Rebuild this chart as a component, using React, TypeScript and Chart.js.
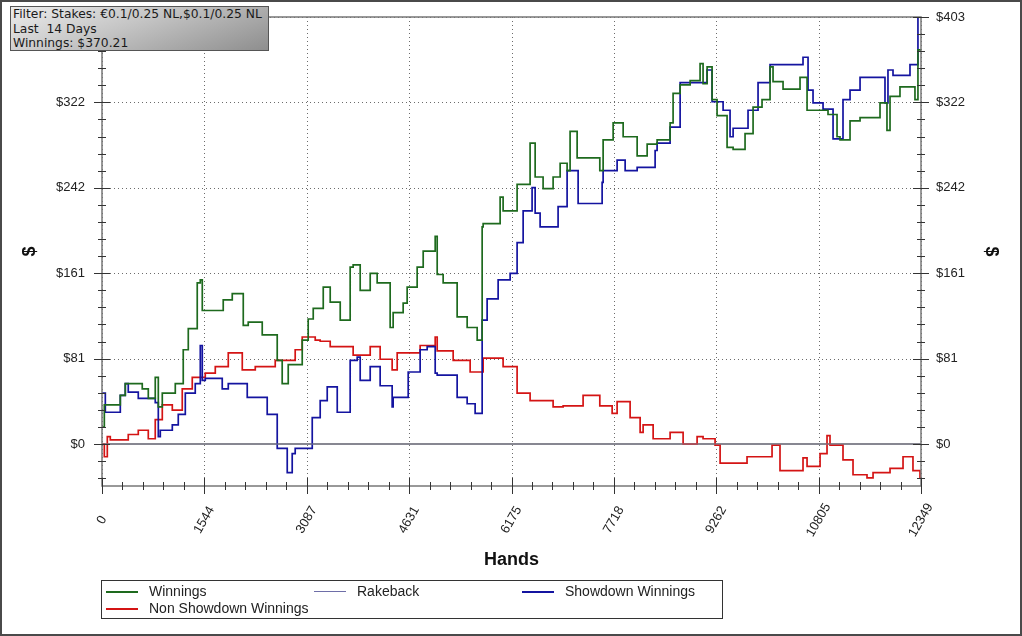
import { useEffect, useRef } from "react"
import Chart from "chart.js/auto"

// hands / cumulative $ for each series
const winningsHands = [0, 35, 276, 351, 607, 698, 803, 849, 909, 1105, 1225, 1301, 1436, 1482, 1512, 1828, 1964, 2130, 2205, 2416, 2642, 2717, 2808, 3019, 3109, 3185, 3336, 3441, 3592, 3742, 3787, 3893, 4044, 4149, 4345, 4390, 4541, 4601, 4752, 4843, 5024, 5054, 5144, 5355, 5506, 5657, 5732, 5747, 6003, 6048, 6259, 6455, 6531, 6651, 6802, 6908, 7013, 7058, 7164, 7506, 7556, 7707, 7858, 8069, 8220, 8370, 8566, 8611, 8717, 8868, 9018, 9063, 9124, 9199, 9274, 9425, 9516, 9696, 9817, 9952, 10073, 10118, 10269, 10525, 10631, 10947, 11083, 11128, 11279, 11430, 11731, 11836, 11882, 12032, 12258, 12303, 12349]
const winningsValues = [16, 37, 46, 57, 52, 43, 63, 35, 48, 57, 89, 109, 152, 155, 126, 136, 142, 112, 115, 103, 79, 57, 75, 98, 118, 128, 148, 134, 117, 167, 169, 145, 161, 152, 110, 124, 133, 148, 167, 182, 196, 160, 152, 120, 110, 98, 205, 208, 233, 220, 245, 284, 252, 241, 252, 265, 258, 295, 270, 258, 287, 303, 290, 272, 283, 287, 303, 331, 339, 343, 359, 340, 356, 325, 310, 280, 278, 293, 318, 325, 356, 342, 335, 346, 315, 311, 290, 287, 305, 308, 322, 296, 328, 337, 325, 372, 370]

const rakebackHands = [0, 12349]
const rakebackValues = [0, 0]

const showdownHands = [0, 50, 276, 351, 396, 547, 803, 849, 879, 1060, 1150, 1256, 1406, 1482, 1512, 1557, 1813, 1904, 2190, 2491, 2642, 2793, 2868, 2913, 3170, 3290, 3396, 3547, 3742, 3848, 3893, 4044, 4194, 4375, 4390, 4617, 4797, 4903, 5024, 5054, 5355, 5506, 5626, 5732, 5807, 5973, 6154, 6259, 6350, 6485, 6531, 6606, 6877, 7013, 7179, 7541, 7556, 7767, 7888, 8069, 8340, 8370, 8566, 8717, 9124, 9199, 9365, 9470, 9516, 9741, 9892, 10073, 10570, 10646, 10721, 10872, 11023, 11173, 11279, 11430, 11806, 11851, 11927, 12183, 12303, 12349]
const showdownValues = [48, 30, 46, 57, 49, 43, 39, 7, 13, 18, 28, 48, 57, 93, 60, 62, 52, 57, 44, 28, -4, -27, -9, -4, 25, 41, 54, 30, 79, 82, 60, 73, 55, 35, 44, 68, 89, 92, 67, 65, 44, 38, 29, 117, 137, 155, 161, 190, 220, 242, 218, 205, 224, 258, 227, 247, 258, 268, 258, 261, 277, 284, 299, 341, 353, 323, 315, 290, 298, 315, 341, 358, 365, 334, 322, 316, 288, 325, 334, 346, 322, 353, 348, 358, 403, 403]

const nonShowdownHands = [0, 35, 80, 125, 396, 547, 698, 803, 909, 1060, 1210, 1361, 1557, 1708, 1904, 2115, 2311, 2612, 2913, 3019, 3215, 3290, 3441, 3787, 4044, 4194, 4375, 4451, 4797, 5024, 5054, 5295, 5551, 5747, 6048, 6259, 6455, 6802, 6953, 7254, 7506, 7692, 7767, 7963, 8114, 8159, 8310, 8566, 8762, 8973, 9063, 9244, 9320, 9726, 10103, 10223, 10570, 10631, 10827, 10932, 10977, 11173, 11324, 11535, 11626, 11882, 12078, 12228, 12334, 12349]
const nonShowdownValues = [0, -12, 7, 4, 9, 13, 5, 23, 37, 32, 52, 63, 67, 73, 86, 70, 73, 79, 89, 101, 98, 97, 92, 84, 92, 80, 70, 86, 93, 101, 88, 79, 68, 81, 73, 48, 41, 35, 36, 46, 36, 29, 40, 25, 11, 18, 5, 11, 0, 7, 5, -1, -18, -12, -1, -25, -13, -21, -9, 8, -1, -15, -29, -32, -27, -23, -12, -25, -32, -32]

const seriesLabels = ["Winnings", "Rakeback", "Showdown Winnings", "Non Showdown Winnings"]
const seriesColors = ["#1e6a1e", "#6e6ea8", "#1414a0", "#d41414"]

const xTicks = [0, 1543.6, 3087.3, 4630.9, 6174.5, 7718.1, 9261.8, 10805.4, 12349]
const xTickLabels = ["0", "1544", "3087", "4631", "6175", "7718", "9262", "10805", "12349"]
const yTicks = [0, 80.6, 161.2, 241.8, 322.4, 403]
const yTickLabels = ["$0", "$81", "$161", "$242", "$322", "$403"]
const yMin = -39.6
const yMax = 403

const filterLines = ["Filter: Stakes: €0.1/0.25 NL,$0.1/0.25 NL", "Last  14 Days", "Winnings: $370.21"]

const FONT = "'Liberation Sans', Arial, sans-serif"

const pairs = (hands: number[], values: number[]) => hands.map((h, i) => ({ x: h, y: values[i] }))

const minorsBetween = (ticks: number[]) => {
  const out: number[] = []
  for (let i = 0; i < ticks.length - 1; i++) {
    const step = (ticks[i + 1] - ticks[i]) / 5
    for (let k = 1; k < 5; k++) out.push(ticks[i] + step * k)
  }
  return out
}

// dotted grid, zero line, frame, crossing tick marks and the slanted hand labels
const axisDecor = {
  id: "axisDecor",
  beforeDatasetsDraw(chart: any) {
    const { ctx, chartArea: a, scales } = chart
    ctx.save()
    ctx.strokeStyle = "#6c6c6c"
    ctx.lineWidth = 1
    ctx.setLineDash([1, 3])
    ctx.beginPath()
    xTicks.forEach((v) => {
      const px = Math.round(scales.x.getPixelForValue(v)) + 0.5
      ctx.moveTo(px, a.top)
      ctx.lineTo(px, a.bottom)
    })
    yTicks.forEach((v) => {
      if (v === 0) return
      const py = Math.round(scales.y.getPixelForValue(v)) + 0.5
      ctx.moveTo(a.left, py)
      ctx.lineTo(a.right, py)
    })
    ctx.stroke()
    ctx.setLineDash([])
    ctx.strokeStyle = "#8a8a8a"
    ctx.lineWidth = 2
    const z = Math.round(scales.y.getPixelForValue(0))
    ctx.beginPath()
    ctx.moveTo(a.left, z)
    ctx.lineTo(a.right, z)
    ctx.stroke()
    ctx.restore()
  },
  afterDatasetsDraw(chart: any) {
    const { ctx, chartArea: a, scales } = chart
    ctx.save()
    ctx.strokeStyle = "#777777"
    ctx.lineWidth = 1.5
    ctx.strokeRect(a.left, a.top, a.right - a.left, a.bottom - a.top)

    const yMinor = minorsBetween(yTicks)
    for (let v = -yTicks[1] / 5; v >= yMin; v -= yTicks[1] / 5) yMinor.push(v)
    const xMinor = minorsBetween(xTicks)

    ctx.strokeStyle = "#333333"
    ctx.lineWidth = 1
    ctx.beginPath()
    const yMark = (v: number, half: number) => {
      const py = Math.round(scales.y.getPixelForValue(v)) + 0.5
      ;[a.left, a.right].forEach((ax) => {
        ctx.moveTo(ax - half, py)
        ctx.lineTo(ax + half, py)
      })
    }
    const xMark = (v: number, half: number) => {
      const px = Math.round(scales.x.getPixelForValue(v)) + 0.5
      ctx.moveTo(px, a.bottom - half)
      ctx.lineTo(px, a.bottom + half)
    }
    yTicks.forEach((v) => yMark(v, 8))
    yMinor.forEach((v) => yMark(v, 4))
    xTicks.forEach((v) => xMark(v, 8))
    xMinor.forEach((v) => xMark(v, 4))
    ctx.stroke()

    // hand labels, rotated about their centre
    ctx.fillStyle = "#222"
    ctx.font = "13px " + FONT
    ctx.textAlign = "center"
    ctx.textBaseline = "middle"
    xTicks.forEach((v, i) => {
      ctx.save()
      ctx.translate(scales.x.getPixelForValue(v), a.bottom + 34)
      ctx.rotate(-Math.PI / 3)
      ctx.fillText(xTickLabels[i], 0, 0)
      ctx.restore()
    })
    ctx.restore()
  },
}

export default function App() {
  const canvasRef = useRef<HTMLCanvasElement>(null)
  const chartRef = useRef<Chart | null>(null)

  useEffect(() => {
    if (!canvasRef.current) return
    if (chartRef.current) chartRef.current.destroy()

    const series = [
      pairs(winningsHands, winningsValues),
      pairs(rakebackHands, rakebackValues),
      pairs(showdownHands, showdownValues),
      pairs(nonShowdownHands, nonShowdownValues),
    ]

    const tickFont = { family: FONT, size: 13 }
    const titleFont = { family: FONT, size: 18, weight: "bold" as const }

    const fitY = (width: number) => (scale: any) => {
      scale.width = width
      scale.paddingTop = 0
      scale.paddingBottom = 0
    }

    chartRef.current = new Chart(canvasRef.current, {
      type: "line",
      data: {
        datasets: series.map((data, i) => ({
          label: seriesLabels[i],
          data,
          // rakeback sits on the zero line, so it is drawn in the zero line's grey
          borderColor: i === 1 ? "#85859a" : seriesColors[i],
          borderWidth: i === 1 ? 1 : 1.7,
          pointRadius: 0,
          stepped: true,
          fill: false,
        })),
      },
      options: {
        animation: false,
        responsive: true,
        maintainAspectRatio: false,
        events: [],
        layout: { padding: { top: 17, left: 0, right: 0, bottom: 0 } },
        plugins: { legend: { display: false }, tooltip: { enabled: false } },
        scales: {
          x: {
            type: "linear",
            min: 0,
            max: 12349,
            grid: { display: false, drawTicks: false },
            border: { display: false },
            afterBuildTicks: (scale: any) => {
              scale.ticks = xTicks.map((value) => ({ value }))
            },
            afterFit: (scale: any) => {
              scale.height = 150
              scale.paddingLeft = 0
              scale.paddingRight = 0
            },
            ticks: { display: false },
            title: { display: true, text: "Hands", color: "#111", font: titleFont, padding: { top: 0, bottom: 65 } },
          },
          y: {
            type: "linear",
            position: "left",
            min: yMin,
            max: yMax,
            grid: { display: false, drawTicks: false },
            border: { display: false },
            afterBuildTicks: (scale: any) => {
              scale.ticks = yTicks.map((value) => ({ value }))
            },
            afterFit: fitY(102),
            ticks: { padding: 17, color: "#222", font: tickFont, callback: (_v: any, i: number) => yTickLabels[i] },
            title: { display: true, text: "$", color: "#111", font: titleFont, padding: { top: 19, bottom: 0 } },
          },
          y2: {
            type: "linear",
            position: "right",
            min: yMin,
            max: yMax,
            grid: { display: false, drawTicks: false },
            border: { display: false },
            afterBuildTicks: (scale: any) => {
              scale.ticks = yTicks.map((value) => ({ value }))
            },
            afterFit: fitY(101),
            ticks: { padding: 15, color: "#222", font: tickFont, callback: (_v: any, i: number) => yTickLabels[i] },
            title: { display: true, text: "$", color: "#111", font: titleFont, padding: { top: 20, bottom: 0 } },
          },
        },
      },
      plugins: [axisDecor],
    })

    return () => {
      if (chartRef.current) {
        chartRef.current.destroy()
        chartRef.current = null
      }
    }
  }, [])

  const columns = [4, 212, 420]

  return (
    <div style={{ position: "fixed", left: 0, top: 0, width: 1022, height: 636, background: "#fff", overflow: "hidden" }}>
      <div style={{ position: "absolute", left: 0, top: 0, width: 1022, height: 636 }}>
        <canvas ref={canvasRef} />
      </div>

      {/* filter summary box */}
      <div
        style={{
          position: "absolute",
          left: 10,
          top: 6,
          width: 255,
          height: 43,
          border: "1px solid #555",
          background: "linear-gradient(160deg, #ececec 0%, #c4c4c4 45%, #8e8e8e 100%)",
          fontFamily: "'DejaVu Sans', Verdana, sans-serif",
          fontSize: 12.3,
          lineHeight: "14.5px",
          color: "#1a1a1a",
          padding: "0 0 0 2px",
          boxSizing: "content-box",
          whiteSpace: "pre",
        }}
      >
        {filterLines.map((t) => (
          <div key={t}>{t}</div>
        ))}
      </div>

      {/* legend */}
      <div
        style={{
          position: "absolute",
          left: 101,
          top: 580,
          width: 620,
          height: 37,
          border: "1px solid #333",
          fontFamily: FONT,
          fontSize: 14,
          color: "#222",
        }}
      >
        {seriesLabels.map((label, i) => {
          const col = i < 3 ? columns[i] : columns[0]
          const top = i < 3 ? 10 : 27
          return (
            <div key={label}>
              <div
                style={{
                  position: "absolute",
                  left: col,
                  top: top,
                  width: 32,
                  height: i === 1 ? 1 : 2,
                  background: seriesColors[i],
                }}
              />
              <div style={{ position: "absolute", left: col + 43, top: top - 8, lineHeight: "17px", whiteSpace: "nowrap" }}>
                {label}
              </div>
            </div>
          )
        })}
      </div>

      <div style={{ position: "absolute", left: 0, top: 0, width: 1022, height: 636, boxSizing: "border-box", border: "2px solid #4a4a4a", pointerEvents: "none" }} />
    </div>
  )
}
